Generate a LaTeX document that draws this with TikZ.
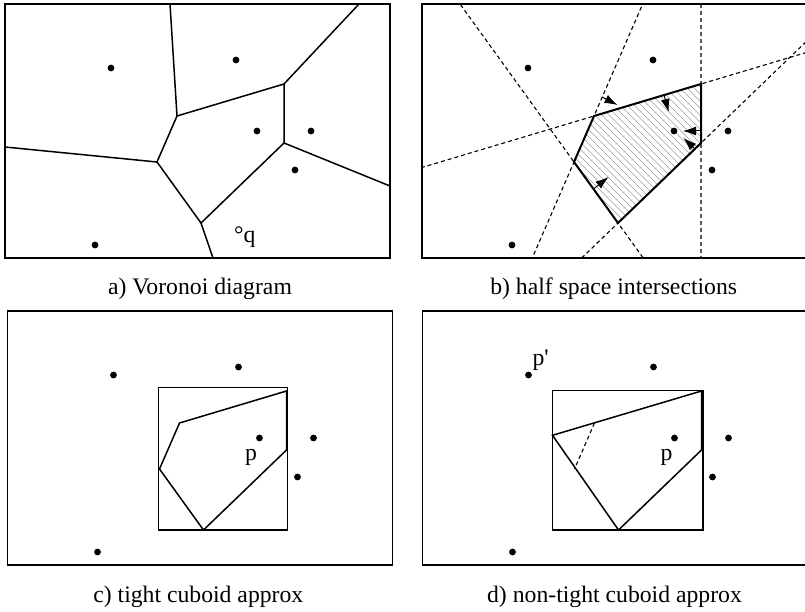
\documentclass[tikz,border=0pt]{standalone}
\usepackage{fontspec}
\setmainfont{Liberation Serif}
\usepackage{tikz}
\usetikzlibrary{calc,arrows.meta}
\tikzset{every node/.append style={font=\fontsize{23.7}{28}\selectfont, inner sep=0pt}}

% corners of the cell of p, in panel coordinates
\newcommand{\cellpts}{%
  \coordinate (A) at (177,116);
  \coordinate (B) at (284,84);
  \coordinate (C) at (284,143);
  \coordinate (D) at (201,223);
  \coordinate (E) at (157,162);
}
% the six sites
\newcommand{\sites}{%
  \foreach \s in {(111,68),(236,60),(257,131),(311,131),(295,170),(95,245)}
    \fill \s circle (3.4pt);
}

\begin{document}
\begin{tikzpicture}[x=1pt, y=-1pt, >={Latex[length=13pt,width=9pt]},
    frame/.style={line width=1.4pt},
    cell/.style={line width=1.5pt},
    bisect/.style={line width=1.1pt, dash pattern=on 4pt off 3pt},
    hatch/.style={gray!75, line width=0.6pt}]
  \useasboundingbox (0,0) rectangle (805,612);

  % a) Voronoi diagram
  \begin{scope}
    \cellpts
    \draw[frame] (5,4) rectangle (390,258);
    \draw[cell] (A) -- (B) -- (C) -- (D) -- (E) -- cycle;
    \draw[cell] (A) -- (170,4);
    \draw[cell] (B) -- (359,4);
    \draw[cell] (C) -- (390,186);
    \draw[cell] (D) -- (213,258);
    \draw[cell] (E) -- (5,147);
    \sites
    \node (q) [anchor=base west] at (234,243) {°q};
  \end{scope}
  \node (capa) [anchor=base] at (200,294) {a) Voronoi diagram};

  % b) half spaces
  \begin{scope}[shift={(417,0)}]
    \cellpts
    \begin{scope}
      \clip (A) -- (B) -- (C) -- (D) -- (E) -- cycle;
      \foreach \c in {-210,-203,...,70}
        \draw[hatch] (140,140+\c) -- (300,300+\c);
    \end{scope}
    \begin{scope}
      \clip (5,4) rectangle (392,258);
      \draw[bisect] ($(A)!-6!(E)$) -- ($(A)!6!(E)$);
      \draw[bisect] ($(E)!-5!(D)$) -- ($(E)!5!(D)$);
      \draw[bisect] ($(A)!-4!(B)$) -- ($(A)!4!(B)$);
      \draw[bisect] ($(C)!-4!(D)$) -- ($(C)!4!(D)$);
      \draw[bisect, gray!70!black] (284,4) -- (284,258);
    \end{scope}
    \draw[frame] (5,4) rectangle (392,258);
    \draw[line width=2pt] (A) -- (B) -- (C) -- (D) -- (E) -- cycle;
    \sites
    % inward normals
    \draw[->, line width=1pt] (185,97) -- (200.5,105);
    \draw[->, line width=1pt] (247.3,96) -- (251.7,112);
    \draw[->, line width=1pt] (284,131) -- (266,131);
    \draw[->, line width=1pt] (278.5,149.5) -- (266.5,138);
    \draw[->, line width=1pt] (176.5,189) -- (191.5,177);
  \end{scope}
  \node (capb) [anchor=base] at (613.7,294) {b) half space intersections};

  % c) tight cuboid
  \begin{scope}[shift={(2.5,307)}]
    \cellpts
    \draw[frame] (5,4) rectangle (390,258);
    \draw[frame] (156,80.5) rectangle (285,223);
    \draw[cell] (A) -- (B) -- (C) -- (D) -- (E) -- cycle;
    \sites
    \node (pc) [anchor=base west] at (242.5,153) {p};
  \end{scope}
  \node (capc) [anchor=base] at (198.3,602) {c) tight cuboid approx};

  % d) non-tight cuboid
  \begin{scope}[shift={(417.5,307)}]
    \cellpts
    \coordinate (A2) at (135,128.3);
    \draw[frame] (5,4) rectangle (392,258);
    \draw[frame] (135,83.7) rectangle (285.5,223);
    \draw[cell] (A2) -- (B) -- (C) -- (D) -- cycle;
    \draw[bisect] (A) -- (E);
    \sites
    \node (pd) [anchor=base west] at (242.8,153) {p};
    \node (pp) [anchor=base west] at (114.8,58) {p\textquotesingle};
  \end{scope}
  \node (capd) [anchor=base] at (614.5,602) {d) non-tight cuboid approx};
\end{tikzpicture}
\end{document}
